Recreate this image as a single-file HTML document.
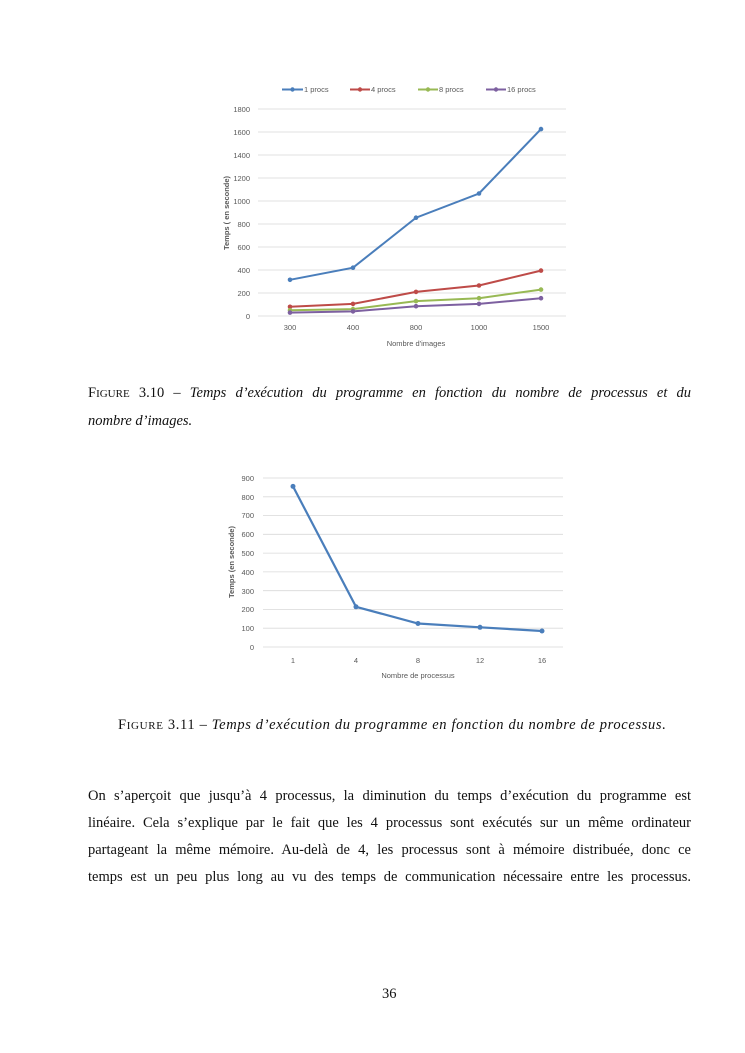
<!DOCTYPE html>
<html><head><meta charset="utf-8"><style>
body{margin:0;background:#fff;width:745px;height:1053px;position:relative;overflow:hidden;font-family:"Liberation Serif",serif;color:#111}
.t{position:absolute;font-size:14.5px;white-space:nowrap}
.j{position:absolute;left:88px;width:603px;font-size:14.5px;text-align:justify;text-align-last:justify;white-space:nowrap}
svg{position:absolute;left:0;top:0}
svg text{font-family:"Liberation Sans",sans-serif;fill:#595959;font-size:7.5px}
</style></head><body>
<svg width="745" height="1053">
<g stroke="#d9d9d9" stroke-width="0.8">
<line x1="258" x2="566" y1="316" y2="316"/><line x1="258" x2="566" y1="293" y2="293"/><line x1="258" x2="566" y1="270" y2="270"/><line x1="258" x2="566" y1="247" y2="247"/><line x1="258" x2="566" y1="224" y2="224"/><line x1="258" x2="566" y1="201" y2="201"/><line x1="258" x2="566" y1="178" y2="178"/><line x1="258" x2="566" y1="155" y2="155"/><line x1="258" x2="566" y1="132" y2="132"/><line x1="258" x2="566" y1="109" y2="109"/>
</g>
<g text-anchor="end"><text x="250" y="319">0</text><text x="250" y="296">200</text><text x="250" y="273">400</text><text x="250" y="250">600</text><text x="250" y="227">800</text><text x="250" y="204">1000</text><text x="250" y="181">1200</text><text x="250" y="158">1400</text><text x="250" y="135">1600</text><text x="250" y="112">1800</text></g>
<g text-anchor="middle"><text x="290" y="330">300</text><text x="353" y="330">400</text><text x="416" y="330">800</text><text x="479" y="330">1000</text><text x="541" y="330">1500</text>
<text x="416" y="346" font-size="8">Nombre d'images</text>
<text transform="translate(229,213) rotate(-90)" font-size="7.5" font-weight="bold">Temps ( en seconde)</text></g>
<g fill="none" stroke-width="2">
<polyline stroke="#4a7ebb" points="290,279.8 353,267.7 416,217.7 479,193.5 541,129.1"/>
<polyline stroke="#be4b48" points="290,306.8 353,303.9 416,291.9 479,285.5 541,270.6"/>
<polyline stroke="#98b954" points="290,310.3 353,309.1 416,301.1 479,298.2 541,289.6"/>
<polyline stroke="#7d60a0" points="290,312.6 353,311.4 416,306.2 479,303.9 541,298.2"/>
</g>
<g fill="#4a7ebb"><circle cx="290" cy="279.8" r="2.3"/><circle cx="353" cy="267.7" r="2.3"/><circle cx="416" cy="217.7" r="2.3"/><circle cx="479" cy="193.5" r="2.3"/><circle cx="541" cy="129.1" r="2.3"/></g>
<g fill="#be4b48"><circle cx="290" cy="306.8" r="2.3"/><circle cx="353" cy="303.9" r="2.3"/><circle cx="416" cy="291.9" r="2.3"/><circle cx="479" cy="285.5" r="2.3"/><circle cx="541" cy="270.6" r="2.3"/></g>
<g fill="#98b954"><circle cx="290" cy="310.3" r="2.3"/><circle cx="353" cy="309.1" r="2.3"/><circle cx="416" cy="301.1" r="2.3"/><circle cx="479" cy="298.2" r="2.3"/><circle cx="541" cy="289.6" r="2.3"/></g>
<g fill="#7d60a0"><circle cx="290" cy="312.6" r="2.3"/><circle cx="353" cy="311.4" r="2.3"/><circle cx="416" cy="306.2" r="2.3"/><circle cx="479" cy="303.9" r="2.3"/><circle cx="541" cy="298.2" r="2.3"/></g>
<g stroke-width="2"><line x1="282" x2="303" y1="89.5" y2="89.5" stroke="#4a7ebb"/><line x1="350" x2="370" y1="89.5" y2="89.5" stroke="#be4b48"/><line x1="418" x2="438" y1="89.5" y2="89.5" stroke="#98b954"/><line x1="486" x2="506" y1="89.5" y2="89.5" stroke="#7d60a0"/></g>
<circle cx="292.5" cy="89.5" r="2.2" fill="#4a7ebb"/><circle cx="360" cy="89.5" r="2.2" fill="#be4b48"/><circle cx="428" cy="89.5" r="2.2" fill="#98b954"/><circle cx="496" cy="89.5" r="2.2" fill="#7d60a0"/>
<text x="304" y="92">1 procs</text><text x="371" y="92">4 procs</text><text x="439" y="92">8 procs</text><text x="507" y="92">16 procs</text>

<g stroke="#d9d9d9" stroke-width="0.8">
<line x1="263" x2="563" y1="647" y2="647"/><line x1="263" x2="563" y1="628.2" y2="628.2"/><line x1="263" x2="563" y1="609.4" y2="609.4"/><line x1="263" x2="563" y1="590.7" y2="590.7"/><line x1="263" x2="563" y1="571.9" y2="571.9"/><line x1="263" x2="563" y1="553.1" y2="553.1"/><line x1="263" x2="563" y1="534.3" y2="534.3"/><line x1="263" x2="563" y1="515.6" y2="515.6"/><line x1="263" x2="563" y1="496.8" y2="496.8"/><line x1="263" x2="563" y1="478" y2="478"/>
</g>
<g text-anchor="end"><text x="254" y="650">0</text><text x="254" y="631">100</text><text x="254" y="612">200</text><text x="254" y="594">300</text><text x="254" y="575">400</text><text x="254" y="556">500</text><text x="254" y="537">600</text><text x="254" y="518">700</text><text x="254" y="500">800</text><text x="254" y="481">900</text></g>
<g text-anchor="middle"><text x="293" y="663">1</text><text x="356" y="663">4</text><text x="418" y="663">8</text><text x="480" y="663">12</text><text x="542" y="663">16</text>
<text x="418" y="678" font-size="8">Nombre de processus</text>
<text transform="translate(234,562) rotate(-90)" font-size="7.5" font-weight="bold">Temps (en seconde)</text></g>
<polyline fill="none" stroke="#4a7ebb" stroke-width="2.2" points="293,486.4 356,606.8 418,623.5 480,627.3 542,631"/>
<g fill="#4a7ebb"><circle cx="293" cy="486.4" r="2.5"/><circle cx="356" cy="606.8" r="2.5"/><circle cx="418" cy="623.5" r="2.5"/><circle cx="480" cy="627.3" r="2.5"/><circle cx="542" cy="631" r="2.5"/></g>
</svg>
<div class="j" style="top:385px">F<span style="font-size:11px">IGURE</span> 3.10 – <i>Temps d’exécution du programme en fonction du nombre de processus et du</i></div>
<div class="t" style="left:88px;top:413px"><i>nombre d’images.</i></div>
<div class="t" style="left:118px;top:717px;letter-spacing:0.65px">F<span style="font-size:11px">IGURE</span> 3.11 – <i>Temps d’exécution du programme en fonction du nombre de processus.</i></div>
<div class="j" style="top:788px">On s’aperçoit que jusqu’à 4 processus, la diminution du temps d’exécution du programme est</div>
<div class="j" style="top:815px">linéaire. Cela s’explique par le fait que les 4 processus sont exécutés sur un même ordinateur</div>
<div class="j" style="top:842px">partageant la même mémoire. Au-delà de 4, les processus sont à mémoire distribuée, donc ce</div>
<div class="j" style="top:869px">temps est un peu plus long au vu des temps de communication nécessaire entre les processus.</div>
<div class="t" style="left:382px;top:986px">36</div>
</body></html>
